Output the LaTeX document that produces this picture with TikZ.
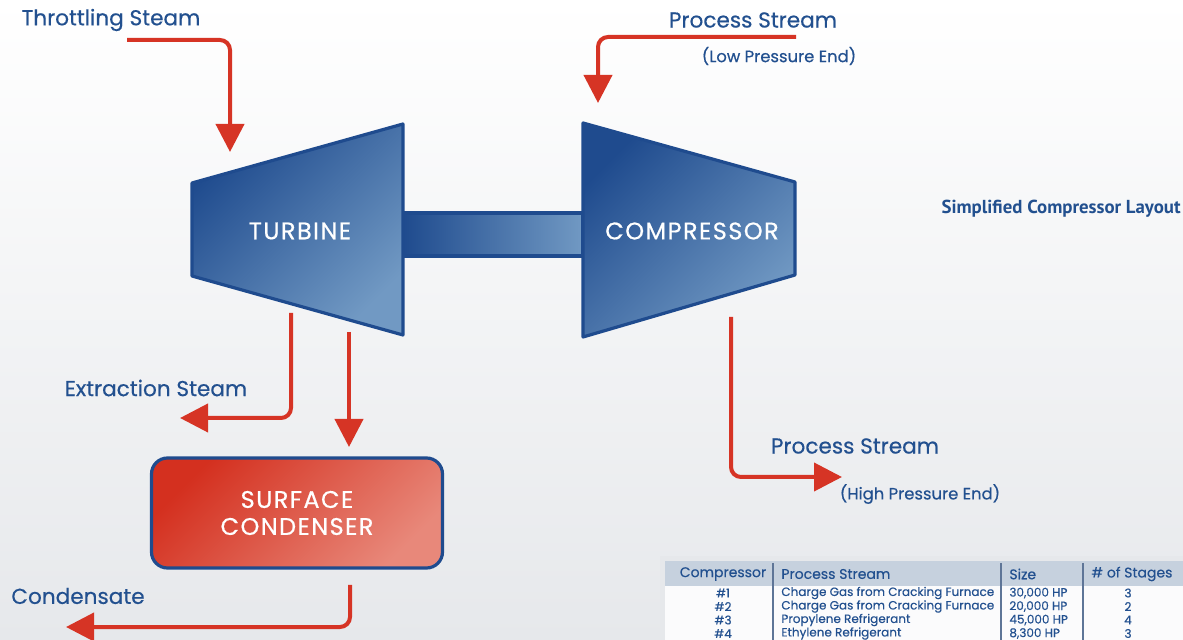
\documentclass[tikz,border=0pt]{standalone}
\usepackage{fontspec}
\setmainfont{Poppins}[FakeBold=0.4]
\newfontfamily\unitfont{Poppins}[FakeBold=0.6, LetterSpace=6]
\newfontfamily\titlefont{PT Sans}
\usetikzlibrary{arrows.meta}

\definecolor{flowred}{HTML}{D63425}
\definecolor{deepblue}{HTML}{1F4B8E}
\definecolor{paleblue}{HTML}{7199C3}
\definecolor{textblue}{HTML}{22508F}
\definecolor{condred}{HTML}{D4301F}
\definecolor{condpale}{HTML}{E8887A}
\definecolor{bggray}{HTML}{E6E8EB}
\definecolor{headgray}{HTML}{C6D1DE}
\definecolor{rulegray}{HTML}{5E7597}

\tikzset{
    flow/.style={draw=flowred, line width=2pt, rounded corners=5pt,
        -{Triangle[length=14pt,width=14pt]}},
    machine/.style={draw=deepblue, line width=1.6pt, line join=round,
        top color=deepblue, bottom color=paleblue, shading angle=45},
    label/.style={text=textblue, font=\fontsize{10.8}{13}\selectfont},
    sublabel/.style={text=textblue, font=\fontsize{8.2}{10}\selectfont},
    unitname/.style={text=white, font=\unitfont\fontsize{12}{13.5}\selectfont},
    cell/.style={text=textblue, font=\fontsize{6}{7}\selectfont, inner sep=0pt},
    headcell/.style={text=textblue, font=\fontsize{7}{8}\selectfont, inner sep=0pt}
}

\begin{document}
\begin{tikzpicture}[x=0.5pt, y=-0.5pt]
    % background
    \shade[top color=white, bottom color=bggray] (0,0) rectangle (1183,640);
    \useasboundingbox (0,0) rectangle (1183,640);

    % shaft, turbine, compressor
    \draw[draw=deepblue, line width=1.6pt, left color=deepblue, right color=paleblue] (403,213) rectangle (583,256);
    \draw[machine] (192,183) -- (403,124) -- (403,335) -- (192,276) -- cycle;
    \draw[machine] (583,123) -- (795,182) -- (795,275) -- (583,337) -- cycle;
    \node[unitname] (turbine) at (300,231) {TURBINE};
    \node[unitname] (compressor) at (692,231) {COMPRESSOR};

    % condenser
    \node[draw=deepblue, line width=1.6pt, rounded corners=8pt, top color=condred, bottom color=condpale,
        shading angle=45, minimum width=145.5pt, minimum height=55pt, align=center, unitname]
        (condenser) at (297,513) {SURFACE\\CONDENSER};

    % labels
    \node[label] (throttle) at (111,20) {Throttling Steam};
    \node[label] (lpstream) at (753,20) {Process Stream};
    \node[sublabel] (lpend) at (779,56) {(Low Pressure End)};
    \node[label] (extract) at (156,388) {Extraction Steam};
    \node[label] (condensate) at (78,596) {Condensate};
    \node[label] (hpstream) at (855,446) {Process Stream};
    \node[sublabel] (hpend) at (920,494) {(High Pressure End)};
    \node[anchor=east, inner sep=0pt, text=textblue, font=\titlefont\bfseries\fontsize{9.4}{11}\selectfont]
        (layout) at (1181,209) {Simplified Compressor Layout};

    % flow ends
    \coordinate (thr in) at (127,40);
    \coordinate (thr out) at (230,152);
    \coordinate (lp in) at (796,37);
    \coordinate (lp out) at (598,103);
    \coordinate (ext in) at (291,313);
    \coordinate (ext out) at (180,418);
    \coordinate (feed in) at (349,332);
    \coordinate (feed out) at (349,447);
    \coordinate (drain in) at (350,585);
    \coordinate (drain out) at (66,627);
    \coordinate (hp in) at (731,317);
    \coordinate (hp out) at (842,477);

    % flows
    \draw[flow] (thr in) -| (thr out);
    \draw[flow] (lp in) -| (lp out);
    \draw[flow] (ext in) |- (ext out);
    \draw[flow] (feed in) -- (feed out);
    \draw[flow] (drain in) |- (drain out);
    \draw[flow] (hp in) |- (hp out);

    % table
    \fill[bggray] (660,556) rectangle (1183,640);
    \fill[white!85!bggray] (665,586) rectangle (1183,640);
    \fill[headgray] (665,561) rectangle (1183,586);
    \draw[rulegray, line width=0.6pt] (773,563) -- (773,640);
    \draw[rulegray, line width=0.6pt] (1001,563) -- (1001,640);
    \draw[rulegray, line width=0.6pt] (1083,563) -- (1083,640);
    \node[headcell] (h1) at (723,574) {Compressor};
    \node[headcell, anchor=west] (h2) at (781,574) {Process Stream};
    \node[headcell, anchor=west] (h3) at (1009,574) {Size};
    \node[headcell, anchor=west] (h4) at (1091,574) {\# of Stages};
    \node[cell] (r1a) at (723,593) {\#1};
    \node[cell, anchor=west] (r1b) at (781,593) {Charge Gas from Cracking Furnace};
    \node[cell, anchor=west] (r1c) at (1009,593) {30,000 HP};
    \node[cell] (r1d) at (1128,593) {3};
    \node[cell] (r2a) at (723,606.5) {\#2};
    \node[cell, anchor=west] (r2b) at (781,606.5) {Charge Gas from Cracking Furnace};
    \node[cell, anchor=west] (r2c) at (1009,606.5) {20,000 HP};
    \node[cell] (r2d) at (1128,606.5) {2};
    \node[cell] (r3a) at (723,620) {\#3};
    \node[cell, anchor=west] (r3b) at (781,620) {Propylene Refrigerant};
    \node[cell, anchor=west] (r3c) at (1009,620) {45,000 HP};
    \node[cell] (r3d) at (1128,620) {4};
    \node[cell] (r4a) at (723,633.5) {\#4};
    \node[cell, anchor=west] (r4b) at (781,633.5) {Ethylene Refrigerant};
    \node[cell, anchor=west] (r4c) at (1009,633.5) {8,300 HP};
    \node[cell] (r4d) at (1128,633.5) {3};
\end{tikzpicture}
\end{document}
